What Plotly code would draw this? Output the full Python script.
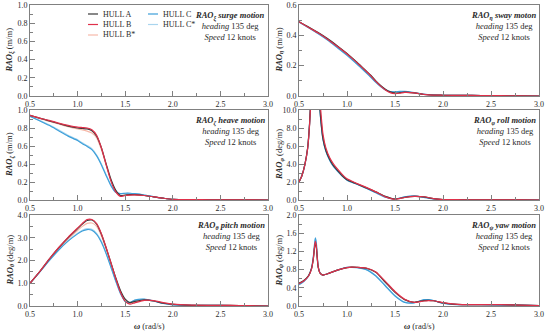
import plotly.graph_objects as go

W, H = 550, 333
def px(x): return x / W
def py(y): return 1 - y / H

# ---------------- data ----------------
hulls = ["HULL A", "HULL B", "HULL B*", "HULL C", "HULL C*"]
colors = {"HULL A": "#3a3a3a", "HULL B": "#e0304a", "HULL B*": "#f6b9a9",
          "HULL C": "#3d9fd9", "HULL C*": "#a9d5ee"}

w_main = [0.5, 0.6, 0.7, 0.8, 0.9, 1.0, 1.05, 1.1, 1.15, 1.2, 1.25, 1.3, 1.35, 1.4,
          1.45, 1.5, 1.55, 1.6, 1.7, 1.8, 1.9, 2.0, 2.2, 2.4, 2.6, 2.8, 3.0]

sway_A  = [0.49, 0.455, 0.418, 0.377, 0.33, 0.28, 0.253, 0.225, 0.195, 0.165, 0.135, 0.1, 0.07, 0.045,
           0.027, 0.02, 0.022, 0.025, 0.02, 0.01, 0.006, 0.005, 0.004, 0.003, 0.002, 0.001, 0.0]
sway_B  = [0.49, 0.452, 0.415, 0.373, 0.326, 0.277, 0.25, 0.222, 0.192, 0.162, 0.131, 0.096, 0.065, 0.04,
           0.022, 0.015, 0.018, 0.024, 0.021, 0.011, 0.006, 0.005, 0.004, 0.003, 0.002, 0.001, 0.0]
sway_Bs = [0.49, 0.453, 0.416, 0.375, 0.328, 0.279, 0.252, 0.224, 0.194, 0.164, 0.133, 0.098, 0.067, 0.042,
           0.024, 0.017, 0.02, 0.024, 0.02, 0.01, 0.006, 0.005, 0.004, 0.003, 0.002, 0.001, 0.0]
sway_C  = [0.488, 0.45, 0.41, 0.367, 0.318, 0.268, 0.241, 0.213, 0.183, 0.153, 0.122, 0.09, 0.062, 0.04,
           0.029, 0.028, 0.03, 0.03, 0.022, 0.012, 0.007, 0.005, 0.004, 0.003, 0.002, 0.001, 0.0]
sway_Cs = [0.488, 0.451, 0.412, 0.369, 0.32, 0.27, 0.243, 0.215, 0.185, 0.155, 0.124, 0.092, 0.063, 0.041,
           0.029, 0.027, 0.029, 0.029, 0.021, 0.011, 0.007, 0.005, 0.004, 0.003, 0.002, 0.001, 0.0]

heave_A  = [0.94, 0.91, 0.88, 0.85, 0.82, 0.80, 0.795, 0.79, 0.77, 0.71, 0.58, 0.40, 0.23, 0.11,
            0.05, 0.055, 0.06, 0.06, 0.05, 0.035, 0.02, 0.008, 0.004, 0.003, 0.002, 0.001, 0.0]
heave_B  = [0.94, 0.91, 0.885, 0.855, 0.83, 0.81, 0.805, 0.80, 0.78, 0.72, 0.58, 0.39, 0.21, 0.09,
            0.04, 0.05, 0.055, 0.058, 0.05, 0.035, 0.02, 0.008, 0.004, 0.003, 0.002, 0.001, 0.0]
heave_Bs = [0.94, 0.905, 0.875, 0.845, 0.815, 0.79, 0.78, 0.765, 0.745, 0.69, 0.56, 0.39, 0.22, 0.10,
            0.05, 0.055, 0.058, 0.058, 0.05, 0.035, 0.02, 0.008, 0.004, 0.003, 0.002, 0.001, 0.0]
heave_C  = [0.93, 0.88, 0.83, 0.77, 0.71, 0.66, 0.625, 0.595, 0.56, 0.49, 0.39, 0.27, 0.16, 0.085,
            0.07, 0.075, 0.075, 0.07, 0.055, 0.035, 0.02, 0.008, 0.004, 0.003, 0.002, 0.001, 0.0]
heave_Cs = [0.93, 0.885, 0.837, 0.78, 0.72, 0.67, 0.635, 0.605, 0.57, 0.50, 0.40, 0.28, 0.165, 0.087,
            0.07, 0.074, 0.074, 0.07, 0.055, 0.035, 0.02, 0.008, 0.004, 0.003, 0.002, 0.001, 0.0]

pitch_A  = [1.0, 1.5, 2.05, 2.55, 3.0, 3.4, 3.6, 3.76, 3.78, 3.6, 3.15, 2.55, 1.9, 1.25,
            0.68, 0.3, 0.15, 0.2, 0.27, 0.22, 0.12, 0.07, 0.03, 0.03, 0.03, 0.015, 0.0]
pitch_B  = [1.0, 1.5, 2.05, 2.56, 3.02, 3.43, 3.63, 3.8, 3.8, 3.62, 3.18, 2.57, 1.9, 1.22,
            0.6, 0.2, 0.08, 0.14, 0.25, 0.24, 0.15, 0.08, 0.035, 0.03, 0.03, 0.015, 0.0]
pitch_Bs = [1.0, 1.5, 2.03, 2.52, 2.95, 3.32, 3.5, 3.63, 3.65, 3.5, 3.08, 2.5, 1.86, 1.22,
            0.64, 0.25, 0.12, 0.17, 0.26, 0.23, 0.13, 0.07, 0.03, 0.03, 0.03, 0.015, 0.0]
pitch_C  = [1.0, 1.48, 1.98, 2.45, 2.85, 3.17, 3.3, 3.36, 3.33, 3.15, 2.8, 2.3, 1.7, 1.1,
            0.55, 0.2, 0.15, 0.26, 0.3, 0.22, 0.11, 0.05, 0.03, 0.03, 0.02, 0.01, 0.0]
pitch_Cs = [1.0, 1.49, 2.0, 2.48, 2.88, 3.2, 3.33, 3.4, 3.37, 3.19, 2.84, 2.33, 1.73, 1.12,
            0.56, 0.21, 0.15, 0.25, 0.29, 0.22, 0.11, 0.05, 0.03, 0.03, 0.02, 0.01, 0.0]

w_roll = [0.5, 0.53, 0.56, 0.59, 0.61, 0.63, 0.65, 0.67, 0.69, 0.71, 0.73, 0.75, 0.78, 0.82, 0.86,
          0.9, 0.95, 1.0, 1.1, 1.2, 1.3, 1.4, 1.5, 1.6, 1.7, 1.8, 1.9, 2.0, 2.2, 2.4, 2.6, 2.8, 3.0]
roll_A  = [2.0, 2.7, 3.9, 5.8, 8.5, 13.0, 20.0, 22.0, 17.0, 11.5, 8.6, 6.8, 5.5, 4.5, 3.8,
           3.3, 2.7, 2.25, 1.8, 1.35, 0.9, 0.4, 0.1, 0.3, 0.4, 0.35, 0.15, 0.05, 0.03, 0.02, 0.02, 0.01, 0.0]
roll_B  = [2.0, 2.7, 3.85, 5.7, 8.3, 12.6, 19.5, 22.5, 18.0, 12.5, 9.5, 7.3, 5.8, 4.7, 4.0,
           3.45, 2.85, 2.35, 1.85, 1.4, 0.9, 0.35, 0.08, 0.28, 0.4, 0.36, 0.16, 0.05, 0.03, 0.02, 0.02, 0.01, 0.0]
roll_Bs = [2.0, 2.7, 3.87, 5.75, 8.4, 12.8, 19.8, 22.2, 17.5, 12.0, 9.0, 7.0, 5.65, 4.6, 3.9,
           3.38, 2.78, 2.3, 1.82, 1.37, 0.9, 0.37, 0.09, 0.29, 0.4, 0.35, 0.15, 0.05, 0.03, 0.02, 0.02, 0.01, 0.0]
roll_C  = [2.0, 2.68, 3.85, 5.7, 8.4, 12.9, 19.8, 21.8, 16.8, 11.3, 8.5, 6.7, 5.4, 4.4, 3.7,
           3.2, 2.65, 2.2, 1.75, 1.3, 0.8, 0.3, 0.1, 0.35, 0.45, 0.3, 0.12, 0.04, 0.03, 0.02, 0.02, 0.01, 0.0]
roll_Cs = [2.0, 2.69, 3.87, 5.75, 8.45, 12.95, 19.9, 21.9, 16.9, 11.4, 8.55, 6.75, 5.45, 4.45, 3.75,
           3.25, 2.68, 2.22, 1.77, 1.32, 0.83, 0.32, 0.1, 0.33, 0.43, 0.31, 0.13, 0.04, 0.03, 0.02, 0.02, 0.01, 0.0]

w_yaw = [0.5, 0.55, 0.6, 0.63, 0.65, 0.66, 0.67, 0.68, 0.69, 0.7, 0.72, 0.75, 0.8, 0.9, 1.0, 1.05,
         1.1, 1.2, 1.3, 1.4, 1.5, 1.6, 1.7, 1.8, 1.85, 1.9, 2.0, 2.1, 2.2, 2.4, 2.6, 2.8, 3.0]
yaw_A  = [0.5, 0.56, 0.67, 0.82, 1.05, 1.25, 1.38, 1.3, 1.05, 0.85, 0.72, 0.68, 0.71, 0.79, 0.845, 0.855,
          0.85, 0.83, 0.74, 0.52, 0.3, 0.14, 0.08, 0.12, 0.125, 0.115, 0.07, 0.04, 0.03, 0.03, 0.03, 0.02, 0.01]
yaw_B  = [0.49, 0.55, 0.66, 0.81, 1.05, 1.27, 1.42, 1.33, 1.07, 0.86, 0.72, 0.68, 0.71, 0.79, 0.845, 0.855,
          0.852, 0.835, 0.75, 0.54, 0.32, 0.15, 0.08, 0.11, 0.12, 0.115, 0.075, 0.045, 0.03, 0.03, 0.03, 0.02, 0.01]
yaw_Bs = [0.49, 0.555, 0.665, 0.815, 1.05, 1.26, 1.4, 1.31, 1.06, 0.855, 0.72, 0.68, 0.71, 0.79, 0.845, 0.855,
          0.851, 0.832, 0.745, 0.53, 0.31, 0.145, 0.08, 0.115, 0.122, 0.115, 0.072, 0.042, 0.03, 0.03, 0.03, 0.02, 0.01]
yaw_C  = [0.47, 0.54, 0.66, 0.83, 1.1, 1.32, 1.5, 1.4, 1.1, 0.87, 0.72, 0.68, 0.71, 0.79, 0.85, 0.85,
          0.845, 0.8, 0.66, 0.44, 0.22, 0.08, 0.07, 0.14, 0.14, 0.12, 0.06, 0.035, 0.03, 0.03, 0.02, 0.02, 0.01]
yaw_Cs = [0.48, 0.545, 0.665, 0.83, 1.09, 1.3, 1.47, 1.38, 1.09, 0.865, 0.72, 0.68, 0.71, 0.79, 0.848, 0.852,
          0.847, 0.805, 0.67, 0.45, 0.23, 0.085, 0.07, 0.135, 0.138, 0.12, 0.062, 0.036, 0.03, 0.03, 0.02, 0.02, 0.01]

# surge: no visible response curves in the reference
panels = [
    dict(key="surge", sym="ξ", name="surge motion", unit="m/m", yr=[0, 1.0], dt=0.2, mdt=0.1,
         x=w_main, series={}),
    dict(key="sway", sym="η", name="sway moton", unit="m/m", yr=[0, 0.6], dt=0.2, mdt=0.1,
         x=w_main, series={"HULL A": sway_A, "HULL B": sway_B, "HULL B*": sway_Bs, "HULL C": sway_C, "HULL C*": sway_Cs}),
    dict(key="heave", sym="ζ", name="heave motion", unit="m/m", yr=[0, 1.0], dt=0.2, mdt=0.1,
         x=w_main, series={"HULL A": heave_A, "HULL B": heave_B, "HULL B*": heave_Bs, "HULL C": heave_C, "HULL C*": heave_Cs}),
    dict(key="roll", sym="φ", name="roll motion", unit="deg/m", yr=[0, 10.0], dt=2.0, mdt=1.0,
         x=w_roll, series={"HULL A": roll_A, "HULL B": roll_B, "HULL B*": roll_Bs, "HULL C": roll_C, "HULL C*": roll_Cs}),
    dict(key="pitch", sym="θ", name="pitch motion", unit="deg/m", yr=[0, 4.0], dt=1.0, mdt=0.5,
         x=w_main, series={"HULL A": pitch_A, "HULL B": pitch_B, "HULL B*": pitch_Bs, "HULL C": pitch_C, "HULL C*": pitch_Cs}),
    dict(key="yaw", sym="ψ", name="yaw motion", unit="deg/m", yr=[0, 2.0], dt=0.4, mdt=0.2,
         x=w_yaw, series={"HULL A": yaw_A, "HULL B": yaw_B, "HULL B*": yaw_Bs, "HULL C": yaw_C, "HULL C*": yaw_Cs}),
]

# ---------------- layout geometry (pixels) ----------------
cols = [(30, 268), (299, 539)]
rows = [(5, 96), (110, 200), (215, 306)]
FONT = "Liberation Serif"
AX = "#808080"
TXT = "#2a2a2a"

fig = go.Figure()
layout = dict(width=W, height=H, margin=dict(l=0, r=0, t=0, b=0),
              paper_bgcolor="white", plot_bgcolor="white", showlegend=False,
              font=dict(family=FONT, size=8, color=TXT))
annotations = []
shapes = []
draw_order = ["HULL C*", "HULL B*", "HULL C", "HULL A", "HULL B"]

for i, p in enumerate(panels):
    r, c = divmod(i, 2)
    x0, x1 = cols[c]
    y0, y1 = rows[r]
    n = i + 1
    xa = f"x{n}" if n > 1 else "x"
    ya = f"y{n}" if n > 1 else "y"
    xkey = f"xaxis{n}" if n > 1 else "xaxis"
    ykey = f"yaxis{n}" if n > 1 else "yaxis"
    layout[xkey] = dict(domain=[px(x0), px(x1)], anchor=ya, range=[0.5, 3.0], dtick=0.5, tick0=0.5,
                        tickformat=".1f", ticks="inside", ticklen=5, tickcolor=AX, tickwidth=1,
                        showline=True, linecolor=AX, linewidth=1, mirror=True, showgrid=False,
                        zeroline=False, automargin=False, tickfont=dict(size=8, color=TXT),
                        minor=dict(dtick=0.25, tick0=0.5, ticks="inside", ticklen=3, tickcolor=AX))
    layout[ykey] = dict(domain=[py(y1), py(y0)], anchor=xa, range=p["yr"], dtick=p["dt"], tick0=0,
                        tickformat=".1f", ticks="inside", ticklen=5, tickcolor=AX, tickwidth=1,
                        showline=True, linecolor=AX, linewidth=1, mirror=True, showgrid=False,
                        zeroline=False, automargin=False, tickfont=dict(size=8, color=TXT),
                        minor=dict(dtick=p["mdt"], tick0=0, ticks="inside", ticklen=3, tickcolor=AX))
    if not p["series"]:
        # empty placeholder so the (blank) surge axes are drawn
        fig.add_trace(go.Scatter(x=[None], y=[None], mode="lines", xaxis=xa, yaxis=ya,
                                 showlegend=False, hoverinfo="skip"))
    for h in draw_order:
        if h in p["series"]:
            fig.add_trace(go.Scatter(x=p["x"], y=p["series"][h], mode="lines", name=h,
                                     line=dict(color=colors[h], width=1.2, shape="spline", smoothing=0.6),
                                     xaxis=xa, yaxis=ya, cliponaxis=True))
    # y title
    annotations.append(dict(xref="paper", yref="paper", x=px(x0 - 20), y=py((y0 + y1) / 2),
                            text=f"<b><i>RAO<sub>{p['sym']}</sub></i></b> ({p['unit']})",
                            textangle=-90, showarrow=False, xanchor="center", yanchor="middle",
                            font=dict(size=8.5, color=TXT)))
    # info box
    annotations.append(dict(xref="paper", yref="paper", x=px(x1 - 1), y=py(y0 + 3),
                            text=f"<b><i>RAO<sub>{p['sym']}</sub> {p['name']}</i></b><br>"
                                 f"<i>heading</i> 135 deg<br><i>Speed</i> 12 knots",
                            showarrow=False, xanchor="right", yanchor="top", align="center",
                            font=dict(size=8.5, color=TXT)))
    if r == 2:
        annotations.append(dict(xref="paper", yref="paper", x=px((x0 + x1) / 2), y=py(326),
                                text="<b><i>ω</i></b> (rad/s)", showarrow=False,
                                xanchor="center", yanchor="middle", font=dict(size=8.5, color=TXT)))

# manual legend in surge panel
leg = [("HULL A", 88, 14), ("HULL B", 88, 24.5), ("HULL B*", 88, 35),
       ("HULL C", 148, 14), ("HULL C*", 148, 24.5)]
for h, lx, ly in leg:
    shapes.append(dict(type="line", xref="paper", yref="paper", x0=px(lx), x1=px(lx + 10),
                       y0=py(ly), y1=py(ly), line=dict(color=colors[h], width=1.2)))
    annotations.append(dict(xref="paper", yref="paper", x=px(lx + 13), y=py(ly), text=h,
                            showarrow=False, xanchor="left", yanchor="middle",
                            font=dict(size=8, color=TXT)))

layout["annotations"] = annotations
layout["shapes"] = shapes
fig.update_layout(**layout)
fig.write_html("out.html", config={"displayModeBar": False},
               post_script="document.body.style.margin='0';document.body.style.padding='0';")
